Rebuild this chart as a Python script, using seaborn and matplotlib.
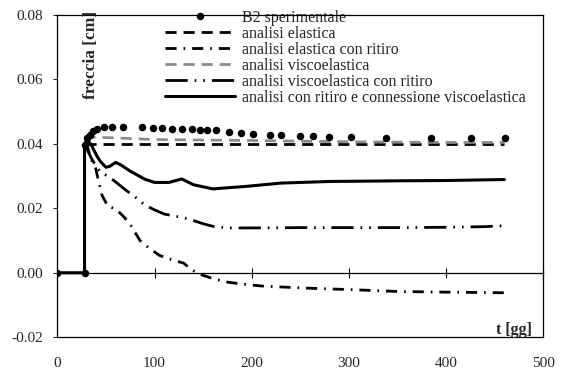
import numpy as np
import pandas as pd
import matplotlib
matplotlib.use("Agg")
import matplotlib.pyplot as plt
import seaborn as sns

# ---------------- data ----------------
exp_t = [0, 28, 28.6, 30.8, 33.6, 37.0, 41.1, 48.0, 55.9, 67.2, 86.7, 98.7, 107.3, 117.6,
         127.8, 138.5, 147.2, 154.5, 163.0, 176.6, 189.0, 201.4, 218.6, 230.5, 250.2,
         262.9, 279.5, 301.8, 337.8, 384.8, 425.2, 460.1]
exp_f = [0.0, 0.0, 0.0397, 0.0418, 0.0428, 0.0438, 0.0446, 0.0451, 0.0452, 0.0452, 0.0452,
         0.0450, 0.0449, 0.0447, 0.0446, 0.0445, 0.0444, 0.0443, 0.0443, 0.0436, 0.0432,
         0.0430, 0.0428, 0.0427, 0.0425, 0.0423, 0.0421, 0.0420, 0.0419, 0.0417, 0.0417,
         0.0417]

el_t = [28, 100, 200, 300, 400, 460]
el_f = [0.0400, 0.0400, 0.0400, 0.0400, 0.0400, 0.0400]

elr_t = [28, 31, 35, 39, 42, 46, 52, 60, 68, 75, 85, 95, 105, 120, 130, 137, 145, 160,
         175, 190, 210, 230, 260, 300, 350, 400, 460]
elr_f = [0.0400, 0.0390, 0.0350, 0.0330, 0.0290, 0.0240, 0.0206, 0.0198, 0.0175, 0.0150,
         0.0100, 0.0075, 0.0054, 0.0038, 0.0030, 0.0012, -0.0003, -0.0018, -0.0029,
         -0.0035, -0.0041, -0.0044, -0.0048, -0.0052, -0.0058, -0.0060, -0.0062]

ve_t = [28, 30, 60, 100, 200, 300, 400, 460]
ve_f = [0.0420, 0.0421, 0.0418, 0.0413, 0.0410, 0.0406, 0.0404, 0.0404]

ver_t = [28, 31, 35, 40, 45, 52, 59, 68, 80, 90, 100, 110, 122, 135, 150, 160, 175, 200,
         250, 300, 350, 400, 440, 460]
ver_f = [0.0400, 0.0380, 0.0355, 0.0330, 0.0310, 0.0300, 0.0284, 0.0262, 0.0235, 0.0210,
         0.0195, 0.0182, 0.0175, 0.0167, 0.0152, 0.0144, 0.0139, 0.0139, 0.0140, 0.0140,
         0.0140, 0.0141, 0.0143, 0.0146]

cv_t = [0, 28, 28, 31, 36, 40, 44, 50, 54, 60, 65, 75, 90, 100, 115, 128, 140, 160, 195,
        230, 280, 350, 400, 460]
cv_f = [0.0, 0.0, 0.0400, 0.0413, 0.0390, 0.0366, 0.0346, 0.0327, 0.0330, 0.0342, 0.0335,
        0.0315, 0.0290, 0.0280, 0.0280, 0.0291, 0.0273, 0.0260, 0.0268, 0.0278, 0.0283,
        0.0285, 0.0286, 0.0289]

labels = ["B2 sperimentale", "analisi elastica", "analisi elastica con ritiro",
          "analisi viscoelastica", "analisi viscoelastica con ritiro",
          "analisi con ritiro e connessione viscoelastica"]
x_ticks = [0, 100, 200, 300, 400, 500]
y_ticks = [-0.02, 0.00, 0.02, 0.04, 0.06, 0.08]
y_ticklabels = ["-0.02", "0.00", "0.02", "0.04", "0.06", "0.08"]

# ---------------- style ----------------
sns.set_style("white")
plt.rcParams["font.family"] = ["Liberation Serif", "DejaVu Serif"]

fig = plt.figure(figsize=(5.62, 3.70), dpi=100)
ax = fig.add_axes([0.102, 0.0884, 0.8647, 0.8719])

common = dict(ax=ax, estimator=None, sort=False)

sns.lineplot(x=el_t, y=el_f, color="black", linewidth=2.0,
             linestyle=(0, (4, 2.5)), label=labels[1], **common)
sns.lineplot(x=elr_t, y=elr_f, color="black", linewidth=2.0,
             linestyle=(0, (4, 2.5, 0.6, 2.5)), label=labels[2], **common)
sns.lineplot(x=ve_t, y=ve_f, color="#8c8c8c", linewidth=2.0,
             linestyle=(0, (4, 2.5)), label=labels[3], **common)
sns.lineplot(x=ver_t, y=ver_f, color="black", linewidth=2.0,
             linestyle=(0, (8, 2.5, 0.6, 2.5, 0.6, 2.5)), label=labels[4], **common)
sns.lineplot(x=cv_t, y=cv_f, color="black", linewidth=2.2,
             linestyle="-", label=labels[5], **common)
sns.lineplot(x=exp_t, y=exp_f, color="black", marker="o", markersize=5.4,
             markeredgewidth=0, linestyle="", label=labels[0], **common)

ax.set_xlim(0, 500)
ax.set_ylim(-0.02, 0.08)
ax.set_xticks(x_ticks)
ax.set_xticklabels([str(v) for v in x_ticks])
ax.set_yticks(y_ticks)
ax.set_yticklabels(y_ticklabels)
ax.tick_params(axis="x", bottom=True, length=0, pad=14, labelsize=11)
ax.tick_params(axis="y", left=True, direction="out", length=3, width=0.8,
               pad=7, labelsize=11)
ax.set_xlabel("")
ax.set_ylabel("")
for s in ax.spines.values():
    s.set_visible(True)
    s.set_color("black")
    s.set_linewidth(0.9)

# zero line with crossing ticks
sec = ax.secondary_xaxis(0.2)
sec.set_xticks(x_ticks)
sec.tick_params(axis="x", direction="inout", length=7, width=0.8, labelbottom=False,
                colors="black")
sec.spines["bottom"].set_linewidth(0.9)
sec.spines["bottom"].set_color("black")

# legend
h, l = ax.get_legend_handles_labels()
order = [l.index(lab) for lab in labels]
leg = ax.legend([h[i] for i in order], [l[i] for i in order], loc="upper left",
                bbox_to_anchor=(0.2216, 1.016), frameon=False, fontsize=11.5,
                labelspacing=0.0, handlelength=4.4, handletextpad=0.45,
                borderpad=0, borderaxespad=0, numpoints=1)
leg.set_zorder(2.4)

ax.text(0.0687, 0.876, "freccia [cm]", transform=ax.transAxes, rotation=90,
        ha="center", va="center", fontsize=12.5, fontweight="bold")
ax.text(0.940, 0.022, "t [gg]", transform=ax.transAxes, ha="center", va="center",
        fontsize=11.5, fontweight="bold")

fig.savefig("out.png", dpi=100)
